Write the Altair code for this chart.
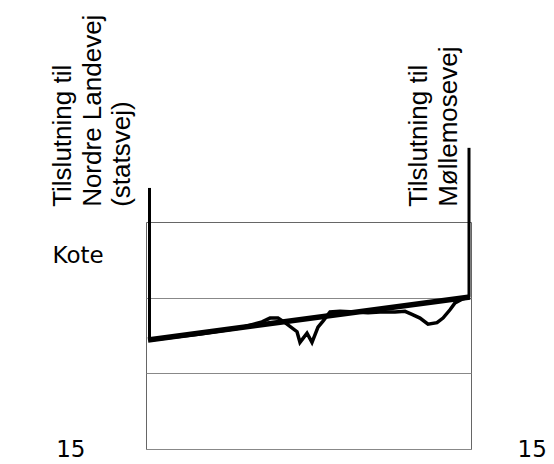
import altair as alt
import pandas as pd

# terrain (existing) profile
terrain_x = [4, 54, 94, 116, 124, 132, 139, 151, 154, 161, 166, 172, 177, 184, 194, 209, 222,
             234, 249, 259, 266, 274, 282, 291, 297, 304, 309, 316, 324]
terrain_y = [16.44, 16.52, 16.60, 16.68, 16.73, 16.73, 16.67, 16.55, 16.41, 16.53, 16.41, 16.61,
             16.69, 16.81, 16.82, 16.81, 16.80, 16.81, 16.81, 16.82, 16.78, 16.73, 16.65, 16.67,
             16.73, 16.84, 16.93, 16.98, 17.01]

# design line
design_x = [2, 324]
design_y = [16.44, 17.01]

# vertical markers
marker_x = [3.5, 323]
marker_y = [16.44, 17.01]
marker_y2 = [18.45, 18.98]

# labels
label_text = ["Tilslutning til\nNordre Landevej\n(statsvej)", "Tilslutning til\nMøllemosevej"]
label_x = [-75, 281]
label_y = [18.20, 18.20]

XDOM = [0, 325]
YDOM = [15, 18]

terrain = pd.DataFrame({"x": terrain_x, "y": terrain_y})
design = pd.DataFrame({"x": design_x, "y": design_y})
markers = pd.DataFrame({"x": marker_x, "y": marker_y, "y2": marker_y2})
labels = pd.DataFrame({"x": label_x, "y": label_y, "t": label_text})

xs = alt.Scale(domain=XDOM, nice=False, zero=False)
ys = alt.Scale(domain=YDOM, nice=False, zero=False)

left_axis = alt.Axis(values=[15, 16, 17], grid=True, gridColor="#888888", gridWidth=1,
                     ticks=False, tickSize=0, domain=False,
                     labelExpr="datum.value == 15 ? '15' : ''",
                     labelFont="DejaVu Sans", labelFontSize=23, labelColor="#000000",
                     labelPadding=61, labelBaseline="middle",
                     title="Kote", titleFont="DejaVu Sans", titleFontSize=23,
                     titleFontWeight="normal", titleColor="#000000",
                     titleAngle=0, titleAlign="left", titleBaseline="alphabetic",
                     titleX=-94, titleY=40)

right_axis = alt.Axis(orient="right", values=[15], grid=False, ticks=False, tickSize=0,
                      domain=False, labelFont="DejaVu Sans", labelFontSize=23,
                      labelColor="#000000", labelPadding=46, labelBaseline="middle",
                      title=None)

t_layer = alt.Chart(terrain).mark_line(color="black", strokeWidth=3.5).encode(
    x=alt.X("x:Q", scale=xs, axis=None),
    y=alt.Y("y:Q", scale=ys, axis=left_axis),
)

d_layer = alt.Chart(design).mark_line(color="black", strokeWidth=5.5).encode(
    x=alt.X("x:Q", scale=xs, axis=None),
    y=alt.Y("y:Q", scale=ys, axis=right_axis),
)

m_layer = alt.Chart(markers).mark_rule(color="black", strokeWidth=3).encode(
    x=alt.X("x:Q", scale=xs, axis=None),
    y=alt.Y("y:Q", scale=ys, axis=None),
    y2="y2:Q",
)

txt_layer = alt.Chart(labels).mark_text(
    angle=270, align="left", baseline="alphabetic", lineBreak="\n",
    font="Liberation Sans", fontSize=26, lineHeight=29.5, color="black"
).encode(
    x=alt.X("x:Q", scale=xs, axis=None),
    y=alt.Y("y:Q", scale=ys, axis=None),
    text="t:N",
)

chart = alt.layer(t_layer, d_layer, m_layer, txt_layer).resolve_axis(
    y="independent"
).properties(
    width=325, height=227,
    autosize=alt.AutoSizeParams(type="none"),
    padding={"left": 138, "top": 214, "right": 75, "bottom": 15},
    background="white",
).configure_view(stroke="#666666", strokeWidth=1)

chart.save("out.html", embed_options={"renderer": "svg", "actions": False})
